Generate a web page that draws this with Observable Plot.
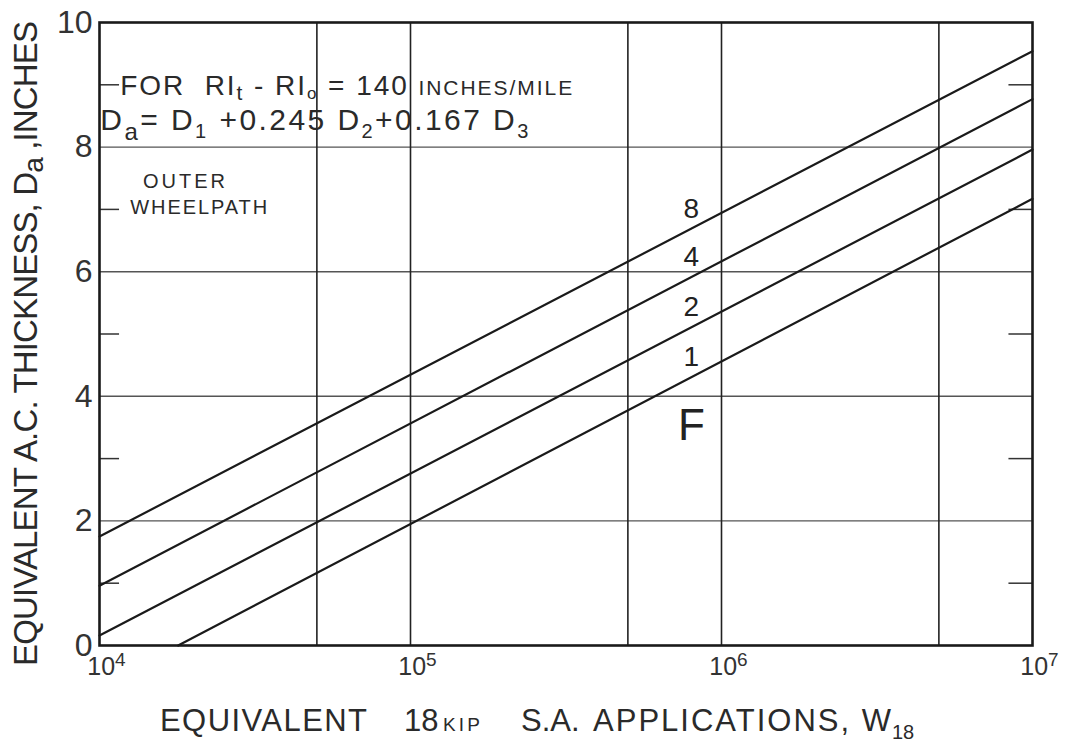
<!DOCTYPE html>
<html>
<head>
<meta charset="utf-8">
<script src="https://cdn.jsdelivr.net/npm/d3@7"></script>
<script src="https://cdn.jsdelivr.net/npm/@observablehq/plot@0.6"></script>
<style>
  html, body { margin: 0; padding: 0; background: #fff; }
  svg { display: block; }
</style>
</head>
<body>
<div id="chart"></div>
<script>
// ---- data ----
const lineNames = ["8", "4", "2", "1"];
const startX = [1e4, 1e4, 1e4, 1.79e4];
const startY = [1.75, 0.96, 0.16, 0];
const endX = [1e7, 1e7, 1e7, 1e7];
const endY = [9.54, 8.77, 7.96, 7.17];
const labelAtX = 8e5;
const extraLabel = ["F"];
const extraLabelX = [8e5];
const extraLabelY = [3.53];
const gridX = [5e4, 1e5, 5e5, 1e6, 5e6];
const gridY = [2, 4, 6, 8];
const minorY = [1, 3, 5, 7, 9];
const yTicks = [0, 2, 4, 6, 8, 10];
const xTicks = [1e4, 1e5, 1e6, 1e7];

// ---- build tables ----
const lineData = lineNames.flatMap((k, i) => [
  {k, x: startX[i], y: startY[i]},
  {k, x: endX[i], y: endY[i]}
]);
const labelData = lineNames.map((k, i) => {
  const t = (Math.log10(labelAtX) - Math.log10(startX[i])) / (Math.log10(endX[i]) - Math.log10(startX[i]));
  return {k, x: labelAtX, y: startY[i] + t * (endY[i] - startY[i])};
});
const extraData = extraLabel.map((k, i) => ({k, x: extraLabelX[i], y: extraLabelY[i]}));

const font = "'Liberation Sans', 'DejaVu Sans', sans-serif";
const ink = "#1a1a1a";

const chart = Plot.plot({
  width: 1068,
  height: 746,
  marginLeft: 99,
  marginRight: 36,
  marginTop: 22,
  marginBottom: 101,
  x: {type: "log", domain: [1e4, 1e7]},
  y: {domain: [0, 10]},
  style: {fontFamily: font, background: "#fff", color: "#333"},
  marks: [
    Plot.ruleY(gridY, {stroke: "#555", strokeWidth: 1.4}),
    Plot.ruleX(gridX, {stroke: "#222", strokeWidth: 1.6}),
    Plot.ruleY(minorY, {x1: 1e4, x2: 1.16e4, stroke: "#333", strokeWidth: 1.5}),
    Plot.ruleY(minorY, {x1: 8.4e6, x2: 1e7, stroke: "#333", strokeWidth: 1.5}),
    Plot.line(lineData, {x: "x", y: "y", z: "k", stroke: ink, strokeWidth: 2.2}),
    Plot.text(labelData, {x: "x", y: "y", text: "k", dy: -20, fontSize: 28, fill: "#222"}),
    Plot.text(extraData, {x: "x", y: "y", text: "k", fontSize: 44, fill: "#222"}),
    Plot.frame({stroke: ink, strokeWidth: 2.6}),
    Plot.axisY({ticks: yTicks, tickSize: 0, tickPadding: 7, fontSize: 32, label: null, fill: "#333"}),
    Plot.axisX({ticks: xTicks, tickSize: 0, tickPadding: 12, dx: 7, fontSize: 25, label: null, fill: "#333",
      tickFormat: d => "10^" + Math.round(Math.log10(d))})
  ]
});
document.getElementById("chart").appendChild(chart);

const svg = d3.select(chart);

// render x tick labels "10^n" as 10 with a raised exponent
svg.selectAll('g[aria-label="x-axis tick label"] text').each(function () {
  const t = d3.select(this);
  const [base, exp] = t.text().split("^");
  t.text(null);
  t.append("tspan").text(base);
  t.append("tspan").attr("dy", -9).attr("font-size", 19).text(exp);
});

// ---- titles and annotations with sub/superscripts ----
const sx = chart.scale("x"), sy = chart.scale("y");
const X = v => sx.apply(v), Y = v => sy.apply(v);
const g = svg.append("g").attr("font-family", font).attr("fill", "#2a2a2a").attr("text-anchor", "start");

function piece(x, y, size, txt, len) {
  const t = g.append("text").attr("x", x).attr("y", y).attr("font-size", size).text(txt);
  if (len) t.attr("textLength", len).attr("lengthAdjust", "spacing");
  return t;
}

// x-axis title
piece(160, 731, 31, "EQUIVALENT", 207);
piece(404, 731, 31, "18");
piece(443, 731, 19, "KIP", 37);
piece(521, 731, 31, "S.A.");
piece(593, 731, 31, "APPLICATIONS, W", 298);
piece(892, 739, 20, "18");

// y-axis title
const yt = g.append("text")
  .attr("transform", `translate(37, ${Y(5) + 10}) rotate(-90)`)
  .attr("text-anchor", "middle")
  .attr("font-size", 33)
  .attr("textLength", 645)
  .attr("lengthAdjust", "spacing");
yt.append("tspan").text("EQUIVALENT A.C. THICKNESS, D");
yt.append("tspan").attr("dy", 6).attr("font-size", 28).text("a");
yt.append("tspan").attr("dy", -6).text(" ,INCHES");

// annotation line 1
const a1 = g.append("text").attr("x", X(1.17e4)).attr("y", Y(8.83)).attr("font-size", 28)
  .attr("textLength", 452).attr("lengthAdjust", "spacing");
a1.append("tspan").text("FOR  RI");
a1.append("tspan").attr("dy", 5).attr("font-size", 21).text("t");
a1.append("tspan").attr("dy", -5).text(" - RI");
a1.append("tspan").attr("dy", 4).attr("font-size", 17).text("o");
a1.append("tspan").attr("dy", -4).text(" = 140 ");
a1.append("tspan").attr("font-size", 21).text("INCHES/MILE");

// annotation line 2
const a2 = g.append("text").attr("x", X(1.01e4)).attr("y", Y(8.26)).attr("font-size", 30)
  .attr("textLength", 428).attr("lengthAdjust", "spacing");
a2.append("tspan").text("D");
a2.append("tspan").attr("dy", 10).attr("font-size", 24).text("a");
a2.append("tspan").attr("dy", -10).text("= D");
a2.append("tspan").attr("dy", 8).attr("font-size", 20).text("1");
a2.append("tspan").attr("dy", -8).text(" +0.245 D");
a2.append("tspan").attr("dy", 8).attr("font-size", 20).text("2");
a2.append("tspan").attr("dy", -8).text("+0.167 D");
a2.append("tspan").attr("dy", 8).attr("font-size", 20).text("3");

// outer wheelpath note
piece(X(1.385e4), Y(7.33), 20, "OUTER", 82);
piece(X(1.26e4), Y(6.92), 20, "WHEELPATH", 137);
</script>
</body>
</html>
